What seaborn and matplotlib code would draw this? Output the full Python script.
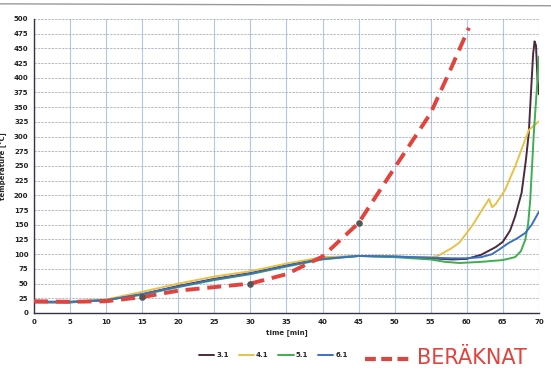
import numpy as np
import pandas as pd
import matplotlib
matplotlib.use("Agg")
import matplotlib.pyplot as plt
from matplotlib.lines import Line2D
import seaborn as sns

# Measured furnace temperatures per test series (time in minutes, temperature in °C)
t_31 = [0, 5, 10, 15, 20, 25, 30, 35, 40, 45, 50, 55, 58, 60, 62, 64, 65, 66, 66.7,
        67.6, 68.2, 68.6, 68.9, 69.2, 69.4, 69.6, 69.8, 70]
v_31 = [18, 18, 22, 32, 46, 58, 68, 81, 93, 97, 96, 93, 91, 92, 99, 112, 121, 140, 164,
        204, 260, 306, 374, 440, 462, 455, 400, 372]

t_41 = [0, 5, 10, 15, 20, 25, 30, 35, 40, 45, 50, 55, 56, 57, 58, 59, 60.3, 61, 62.1,
        63.1, 63.5, 64, 65.3, 66.7, 67.5, 68.6, 70]
v_41 = [19, 19, 23, 36, 50, 62, 71, 84, 95, 97, 96, 95, 97, 104, 111, 120, 141, 153, 175,
        194, 180, 185, 209, 249, 275, 311, 326]

t_51 = [0, 5, 10, 15, 20, 25, 30, 35, 40, 45, 50, 55, 57, 59, 62, 65, 66.7, 67.5, 68.1,
        68.5, 68.8, 69.1, 69.3, 69.6, 69.8, 70]
v_51 = [19, 19, 22, 31, 44, 56, 66, 79, 91, 97, 95, 91, 87, 85, 87, 90, 95, 105, 124,
        150, 192, 260, 306, 360, 395, 436]

t_61 = [0, 5, 10, 15, 20, 25, 30, 35, 40, 45, 50, 55, 58, 60, 62, 63.5, 64.5, 65.8, 67,
        68.1, 69, 70]
v_61 = [19, 19, 22, 32, 45, 57, 67, 80, 92, 97, 96, 94, 93, 93, 95, 100, 108, 119, 127,
        136, 150, 172]

# Calculated curve
t_calc = [0, 5, 10, 15, 20, 25, 30, 35, 40, 45, 50, 55, 57.6, 60.3]
v_calc = [20, 19, 20, 27, 38, 44, 50, 66, 96, 153, 247, 340, 410, 485]

series_names = ["3.1", "4.1", "5.1", "6.1"]
series_colors = ["#4b2b3c", "#e8c244", "#3fae4e", "#3b70c4"]
calc_label = "BERÄKNAT"

x_ticks = list(range(0, 71, 5))
y_ticks = list(range(0, 501, 25))

frames = []
for name, t, v in zip(series_names, [t_31, t_41, t_51, t_61], [v_31, v_41, v_51, v_61]):
    frames.append(pd.DataFrame({"time": t, "temp": v, "series": name}))
df = pd.concat(frames, ignore_index=True)
df_calc = pd.DataFrame({"time": t_calc, "temp": v_calc})

sns.set_theme(style="white")
plt.rcParams["font.family"] = ["DejaVu Sans"]

fig = plt.figure(figsize=(5.51, 3.83), dpi=100)
ax = fig.add_axes([0.0617, 0.1828, 0.9163, 0.7676])

# grid: vertical solid light blue, horizontal dashed grey-blue
for xv in x_ticks:
    ax.axvline(xv, color="#b3c7ee", lw=0.8, zorder=0)
for yv in y_ticks:
    ax.axhline(yv, color="#a0a5c0", lw=0.55, ls=(0, (3, 1.5)), zorder=0)

sns.lineplot(data=df, x="time", y="temp", hue="series", palette=series_colors,
             hue_order=series_names, estimator=None, sort=False, lw=1.4, ax=ax,
             legend=False, zorder=3)

sns.lineplot(data=df_calc, x="time", y="temp", color="#e2433d", lw=2.8,
             estimator=None, sort=False, ax=ax, zorder=4)
ax.lines[-1].set_dashes((3.6, 2.0))
# hand-marked checkpoints on the calculated curve
mark_idx = [3, 6, 9]
ax.scatter([t_calc[i] for i in mark_idx], [v_calc[i] for i in mark_idx],
           s=14, color="#555555", zorder=5)

ax.set_xlim(0, 70)
ax.set_ylim(0, 500)
ax.set_xticks(x_ticks)
ax.set_yticks(y_ticks)
ax.tick_params(axis="both", labelsize=5, length=2, pad=2, colors="#222222")
for lab in ax.get_xticklabels() + ax.get_yticklabels():
    lab.set_fontweight("bold")
ax.set_xlabel("time [min]", fontsize=5, fontweight="bold", labelpad=3)
ax.set_ylabel("temperature [°C]", fontsize=5, fontweight="bold", labelpad=5)

for side in ["top", "right"]:
    ax.spines[side].set_visible(False)
ax.spines["left"].set_color("#333344")
ax.spines["bottom"].set_color("#333344")
ax.spines["left"].set_linewidth(1.0)
ax.spines["bottom"].set_linewidth(1.0)

handles = [Line2D([], [], color=c, lw=1.4) for c in series_colors]
leg = fig.legend(handles, series_names, loc="center", bbox_to_anchor=(0.496, 0.073),
                 ncol=4, frameon=False, fontsize=5, handlelength=2.2,
                 columnspacing=1.4, handletextpad=0.3)
for txt in leg.get_texts():
    txt.set_fontweight("bold")

# calculated-curve key, drawn in red below the chart
fig.add_artist(Line2D([0.662, 0.742], [0.063, 0.063], color="#e2433d", lw=3,
                      dashes=(2.6, 1.3), transform=fig.transFigure))
fig.text(0.757, 0.066, calc_label, color="#e2433d", fontsize=15, va="center",
         ha="left")

# page edge line across the top
fig.add_artist(Line2D([0, 1], [0.99, 0.985], color="#9a9a9a", lw=1.0,
                      transform=fig.transFigure))

fig.savefig("out.png", dpi=100)
